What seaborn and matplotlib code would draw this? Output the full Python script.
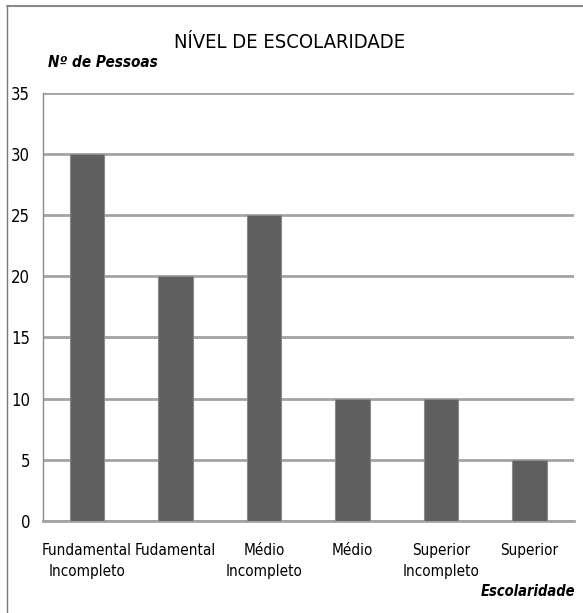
"""
Bar chart: nível de escolaridade (nº de pessoas por categoria).
"""

import matplotlib.pyplot as plt
from matplotlib.lines import Line2D
import seaborn as sns
import pandas as pd

# data
categorias = ["Fundamental\nIncompleto", "Fudamental", "Médio\nIncompleto",
              "Médio", "Superior\nIncompleto", "Superior"]
pessoas = [30, 20, 25, 10, 10, 5]
y_ticks = [0, 5, 10, 15, 20, 25, 30, 35]

sns.set_style("white")
plt.rcParams['font.family'] = ['DejaVu Sans']
plt.rcParams['font.stretch'] = 'condensed'
plt.rcParams['text.color'] = 'black'
plt.rcParams['xtick.color'] = 'black'
plt.rcParams['ytick.color'] = 'black'

df = pd.DataFrame({"categoria": categorias, "pessoas": pessoas})

fig = plt.figure(figsize=(5.83, 6.13), dpi=100)
ax = fig.add_axes([0.0729, 0.150, 0.9117, 0.699])

sns.barplot(data=df, x="categoria", y="pessoas", color="#5f5f5f",
            edgecolor="#8a8a8a", linewidth=0.8, width=0.39, saturation=1,
            ax=ax, zorder=3)

# grid and axes look
ax.set_ylim(0, 35)
ax.set_xlim(-0.5, len(categorias) - 0.5)
ax.set_yticks(y_ticks)
ax.yaxis.grid(True, color="#a3a3a3", linewidth=2, zorder=0)
ax.xaxis.grid(False)
for side in ["top", "right"]:
    ax.spines[side].set_visible(False)
ax.spines["left"].set_color("#8c8c8c")
ax.spines["bottom"].set_color("#a3a3a3")
ax.spines["bottom"].set_linewidth(2)
ax.spines["left"].set_linewidth(1)

ax.tick_params(axis="y", length=3, width=1, color="#8c8c8c", labelsize=12,
               labelcolor="black", pad=6)
ax.tick_params(axis="x", which="major", length=0, labelsize=11,
               labelcolor="black", pad=16)
for lbl in ax.get_xticklabels():
    lbl.set_linespacing(1.45)
ax.set_xticks([i - 0.5 for i in range(len(categorias) + 1)], minor=True)
ax.tick_params(axis="x", which="minor", length=7, width=1, color="#8c8c8c",
               direction="out")
ax.set_xlabel("")
ax.set_ylabel("")

# titles
fig.text(0.497, 0.930, "NÍVEL DE ESCOLARIDADE", ha="center", va="center",
         fontsize=14.5)
fig.text(0.082, 0.898, "Nº de Pessoas", ha="left", va="center",
         fontsize=11, fontweight="bold", style="italic")
fig.text(0.906, 0.035, "Escolaridade", ha="center", va="center",
         fontsize=10.5, fontweight="bold", style="italic")

# outer frame (left and top edges)
fig.add_artist(Line2D([0.012, 0.012], [0.0, 0.990], transform=fig.transFigure,
                      color="#7a7a7a", linewidth=1))
fig.add_artist(Line2D([0.012, 1.0], [0.990, 0.990], transform=fig.transFigure,
                      color="#8a8a8a", linewidth=1.5))

fig.savefig("out.png", dpi=100)
